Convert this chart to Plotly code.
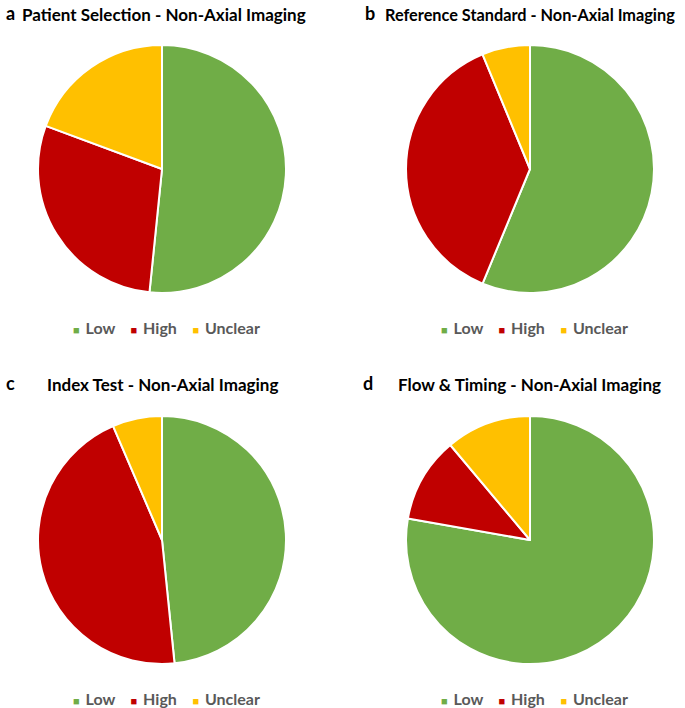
import plotly.graph_objects as go

W, H = 685, 708

KATEGORIE = ["Low", "High", "Unclear"]
KOLORY = ["#70AD47", "#C00000", "#FFC000"]

patient_selection = [16, 9, 6]
reference_standard = [9, 6, 1]
index_test = [15, 14, 2]
flow_timing = [7, 1, 1]

# litera, tytul, dane, srodek kola (x, y), lewa krawedz tytulu, y tytulu, rozmiar tytulu
PANELE = [
    ("a", "Patient Selection - Non-Axial Imaging", patient_selection, 162, 169, 20, 15, 17),
    ("b", "Reference Standard - Non-Axial Imaging", reference_standard, 530, 169, 383, 15, 16.3),
    ("c", "Index Test - Non-Axial Imaging", index_test, 162, 540, 45, 385, 17),
    ("d", "Flow & Timing - Non-Axial Imaging", flow_timing, 530, 540, 396, 385, 17),
]
LITERY_X = {"a": 4, "b": 363, "c": 4, "d": 361}
R = 124
FONT = "Lato, 'Open Sans', sans-serif"

# legenda jako tekst - wbudowana legenda plotly ma za duze odstepy
SP = "&nbsp;"
legenda_html = (SP * 4).join(
    f"<span style='color:{k};font-size:11px'>■</span>{SP}&#8201;{nazwa}"
    for nazwa, k in zip(KATEGORIE, KOLORY)
)

fig = go.Figure()
annotations = []
for litera, tytul, wartosci, cx, cy, tx, ty, ts in PANELE:
    fig.add_trace(go.Pie(
        labels=KATEGORIE, values=wartosci, name=tytul,
        marker=dict(colors=KOLORY, line=dict(color="white", width=2)),
        sort=False, direction="clockwise", rotation=0,
        textinfo="none", hoverinfo="label+value+percent",
        domain=dict(x=[(cx - R) / W, (cx + R) / W],
                    y=[1 - (cy + R) / H, 1 - (cy - R) / H]),
        showlegend=False,
    ))
    annotations.append(dict(
        text=tytul, x=tx / W, y=1 - ty / H, xref="paper", yref="paper",
        xanchor="left", yanchor="middle", showarrow=False,
        font=dict(family=FONT, size=ts, color="black", weight="bold"),
    ))
    annotations.append(dict(
        text=litera, x=LITERY_X[litera] / W, y=1 - (ty - 2) / H, xref="paper", yref="paper",
        xanchor="left", yanchor="middle", showarrow=False,
        font=dict(family=FONT, size=18, color="black", weight="bold"),
    ))
    annotations.append(dict(
        text=legenda_html, x=(cx + 4) / W, y=1 - (cy + 158) / H, xref="paper", yref="paper",
        xanchor="center", yanchor="middle", showarrow=False,
        font=dict(family=FONT, size=16, color="#595959", weight="bold"),
    ))

fig.update_layout(
    width=W, height=H, margin=dict(l=0, r=0, t=0, b=0),
    paper_bgcolor="white", plot_bgcolor="white",
    annotations=annotations,
)
# bez marginesu body, inaczej wykres jest przesuniety o 8px
fig.write_html("out.html", config={"displayModeBar": False},
               post_script="document.body.style.margin='0';")
